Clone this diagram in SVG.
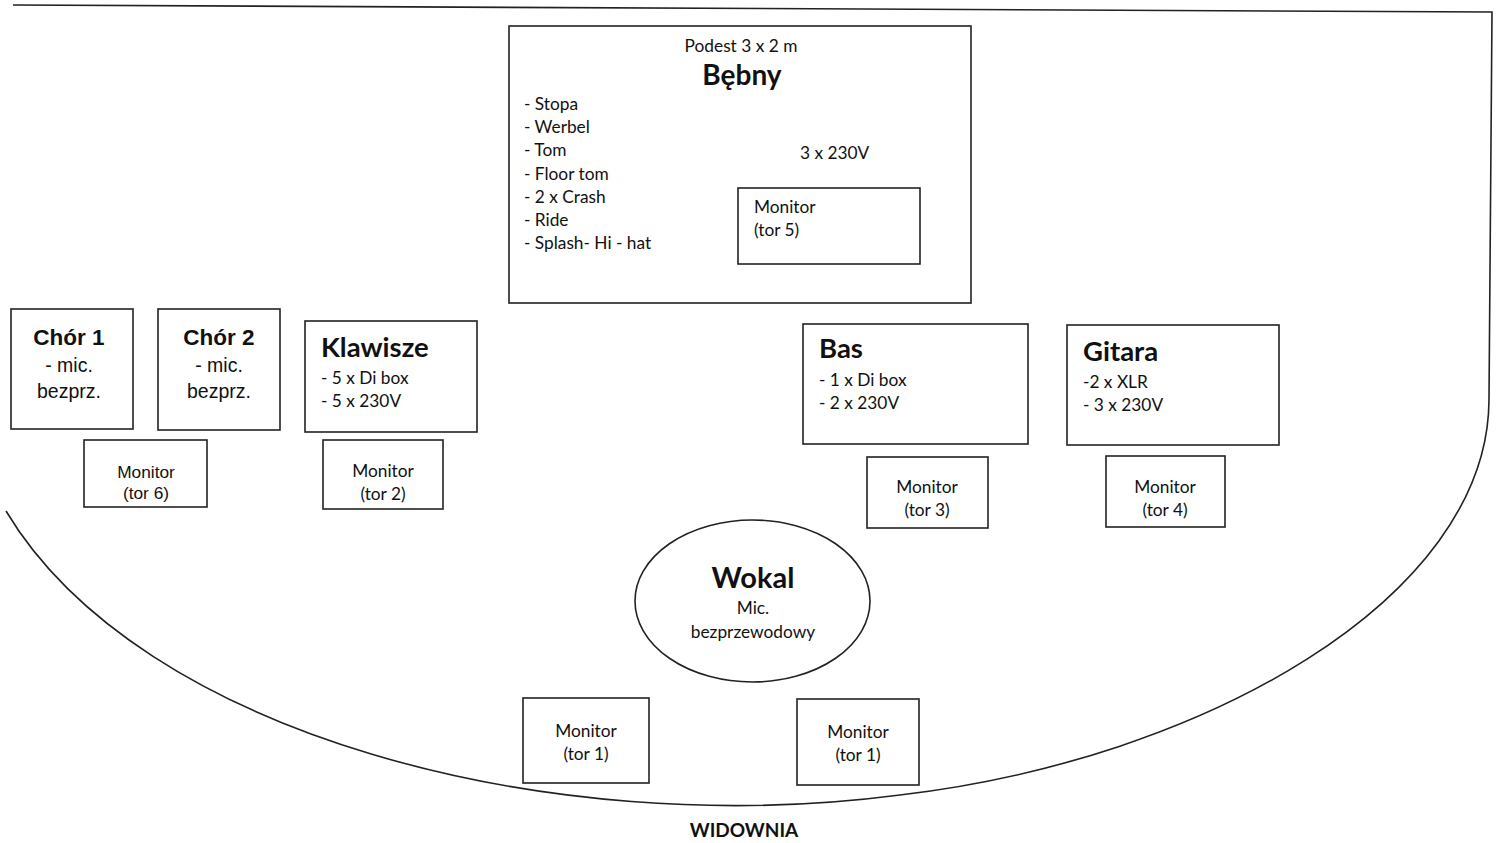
<svg xmlns="http://www.w3.org/2000/svg" width="1500" height="843" viewBox="0 0 1500 843">
<style>
.bx{fill:#fff;stroke:#222;stroke-width:1.6}
.ln{fill:none;stroke:#222;stroke-width:1.6}
.c{font-family:Lato,"Open Sans",sans-serif;fill:#111}
.a{font-family:"Liberation Sans",Arial,sans-serif;fill:#111}
.s{font-size:17.3px}
.m{font-size:17.3px;text-anchor:middle}
.h{font-weight:bold}
.mid{text-anchor:middle}
</style>
<rect width="1500" height="843" fill="#fff"/>
<g id="stage">
<path class="ln" d="M13 5 L1492 12 L1489 400 C1488 600 1200 760 900 795 C550 841 140 735 6 511"/>
</g>
<g id="bebny">
<rect class="bx" x="509" y="26" width="462" height="277"/>
<text class="c m" x="741" y="52">Podest 3 x 2 m</text>
<text class="c h mid" x="742" y="85" font-size="28">Bębny</text>
<text class="c s" x="524" y="110">- Stopa</text>
<text class="c s" x="524" y="133">- Werbel</text>
<text class="c s" x="524" y="156">- Tom</text>
<text class="c s" x="524" y="180">- Floor tom</text>
<text class="c s" x="524" y="203">- 2 x Crash</text>
<text class="c s" x="524" y="226">- Ride</text>
<text class="c s" x="524" y="249">- Splash- Hi - hat</text>
<text class="c s" x="800" y="159">3 x 230V</text>
</g>
<g id="monitor5">
<rect class="bx" x="738" y="188" width="182" height="76"/>
<text class="c s" x="754" y="213">Monitor</text>
<text class="c s" x="754" y="236">(tor 5)</text>
</g>
<g id="chor1">
<rect class="bx" x="11" y="309" width="122" height="120"/>
<text class="a h mid" x="69" y="345" font-size="22.5">Chór 1</text>
<text class="a mid" x="69" y="372" font-size="19.5">- mic.</text>
<text class="a mid" x="69" y="398" font-size="19.5">bezprz.</text>
</g>
<g id="chor2">
<rect class="bx" x="158" y="309" width="122" height="121"/>
<text class="a h mid" x="219" y="345" font-size="22.5">Chór 2</text>
<text class="a mid" x="219" y="372" font-size="19.5">- mic.</text>
<text class="a mid" x="219" y="398" font-size="19.5">bezprz.</text>
</g>
<g id="klawisze">
<rect class="bx" x="305" y="321" width="172" height="111"/>
<text class="c h" x="321" y="357" font-size="27.5">Klawisze</text>
<text class="c s" x="321" y="384">- 5 x Di box</text>
<text class="c s" x="321" y="407">- 5 x 230V</text>
</g>
<g id="monitor6">
<rect class="bx" x="84" y="440" width="123" height="67"/>
<text class="a m" x="146" y="478" font-size="16.5">Monitor</text>
<text class="a m" x="146" y="499" font-size="16.5">(tor 6)</text>
</g>
<g id="monitor2">
<rect class="bx" x="323" y="440" width="120" height="69"/>
<text class="c m" x="383" y="477">Monitor</text>
<text class="c m" x="383" y="500">(tor 2)</text>
</g>
<g id="bas">
<rect class="bx" x="803" y="324" width="225" height="120"/>
<text class="c h" x="819" y="358" font-size="27.5">Bas</text>
<text class="c s" x="819" y="386">- 1 x Di box</text>
<text class="c s" x="819" y="409">- 2 x 230V</text>
</g>
<g id="gitara">
<rect class="bx" x="1067" y="325" width="212" height="120"/>
<text class="c h" x="1083" y="361" font-size="27.5">Gitara</text>
<text class="c s" x="1083" y="388">-2 x XLR</text>
<text class="c s" x="1083" y="411">- 3 x 230V</text>
</g>
<g id="monitor3">
<rect class="bx" x="867" y="457" width="121" height="71"/>
<text class="c m" x="927" y="493">Monitor</text>
<text class="c m" x="927" y="516">(tor 3)</text>
</g>
<g id="monitor4">
<rect class="bx" x="1106" y="456" width="119" height="71"/>
<text class="c m" x="1165" y="493">Monitor</text>
<text class="c m" x="1165" y="516">(tor 4)</text>
</g>
<g id="wokal">
<ellipse class="bx" cx="752.5" cy="601" rx="117.5" ry="81"/>
<text class="c h mid" x="753" y="588" font-size="29">Wokal</text>
<text class="c m" x="753" y="614">Mic.</text>
<text class="c m" x="753" y="638">bezprzewodowy</text>
</g>
<g id="monitor1a">
<rect class="bx" x="523" y="698" width="126" height="85"/>
<text class="c m" x="586" y="737">Monitor</text>
<text class="c m" x="586" y="760">(tor 1)</text>
</g>
<g id="monitor1b">
<rect class="bx" x="797" y="699" width="122" height="86"/>
<text class="c m" x="858" y="738">Monitor</text>
<text class="c m" x="858" y="761">(tor 1)</text>
</g>
<g id="widownia">
<text class="c h mid" x="744" y="837" font-size="19">WIDOWNIA</text>
</g>
<g id="connectors"></g>
</svg>
